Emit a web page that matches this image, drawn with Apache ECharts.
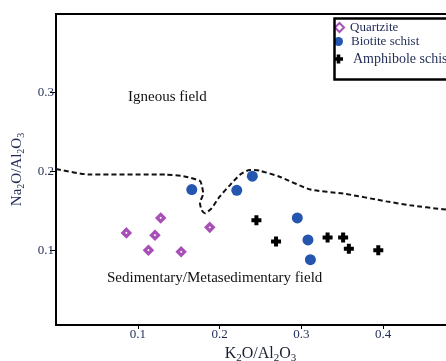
<!DOCTYPE html>
<html>
<head>
<meta charset="utf-8">
<script src="https://cdn.jsdelivr.net/npm/echarts@6/dist/echarts.min.js"></script>
<style>
  html, body { margin: 0; padding: 0; background: #fff; }
  #chart { width: 446px; height: 361px; }
</style>
</head>
<body>
<div id="chart"></div>
<script>
// K2O/Al2O3 (x) and Na2O/Al2O3 (y) per sample group
const quartziteK = [0.128, 0.086, 0.121, 0.188, 0.113, 0.153];
const quartziteNa = [0.141, 0.122, 0.119, 0.129, 0.100, 0.098];

const biotiteK = [0.166, 0.221, 0.240, 0.295, 0.308, 0.311];
const biotiteNa = [0.177, 0.176, 0.194, 0.141, 0.113, 0.088];

const amphiboleK = [0.245, 0.269, 0.332, 0.351, 0.358, 0.394];
const amphiboleNa = [0.138, 0.111, 0.116, 0.116, 0.102, 0.100];

// igneous / sedimentary boundary (dashed)
const boundaryK = [0, 0.042, 0.135, 0.156, 0.176, 0.178, 0.180, 0.176, 0.178, 0.182, 0.190, 0.200,
  0.213, 0.225, 0.237, 0.249, 0.274, 0.311, 0.351, 0.404, 0.433, 0.473, 0.49];
const boundaryNa = [0.203, 0.196, 0.196, 0.194, 0.188, 0.183, 0.172, 0.160, 0.151, 0.147, 0.153, 0.168,
  0.183, 0.196, 0.202, 0.201, 0.193, 0.177, 0.172, 0.162, 0.157, 0.152, 0.150];

const xTicks = [0.1, 0.2, 0.3, 0.4];
const yTicks = [0.1, 0.2, 0.3];

const zip = (a, b) => a.map((v, i) => [v, b[i]]);

const serif = '"Liberation Serif", "Times New Roman", serif';
const navy = '#1f2b55';
const plusPath = 'path://M3,0H7V3H10V7H7V10H3V7H0V3H3Z';

const chart = echarts.init(document.getElementById('chart'));

// K2O -> {m|K}{s|2}{m|O}
const chem = (parts) => parts.map((p) => (/^\d$/.test(p) ? '{s|' + p + '}' : '{m|' + p + '}')).join('');
const subRich = (color, size) => ({
  m: { fontSize: size, lineHeight: 20, verticalAlign: 'middle', fontFamily: serif, color: color },
  s: { fontSize: size - 5, lineHeight: 20, verticalAlign: 'bottom', fontFamily: serif, color: color }
});

function legendAt(name, top, textPad, size) {
  return {
    data: [name],
    orient: 'vertical',
    left: 334,
    top: top,
    padding: 0,
    itemWidth: 9,
    itemHeight: 9,
    itemGap: 0,
    textStyle: { fontFamily: serif, fontSize: size, color: navy, padding: [0, 0, 0, textPad] },
    selectedMode: false
  };
}

chart.setOption({
  animation: false,
  grid: {
    left: 56,
    top: 14,
    width: 409,
    height: 311,
    outerBoundsMode: 'none',
    containLabel: false,
    show: true,
    borderColor: '#000',
    borderWidth: 2
  },
  legend: [
    legendAt('Quartzite', 21, 1, 13),
    legendAt('Biotite schist', 35, 3, 13),
    legendAt('Amphibole schist', 52, 5, 14)
  ],
  graphic: [
    {
      type: 'rect',
      left: 332,
      top: 16,
      shape: { width: 140, height: 61 },
      style: { fill: 'none', stroke: '#000', lineWidth: 2.5 },
      z: 100
    },
    {
      type: 'text',
      left: 128,
      top: 90,
      style: { text: 'Igneous field', font: '15px ' + serif, fill: '#111' }
    },
    {
      type: 'text',
      left: 107,
      top: 271,
      style: { text: 'Sedimentary/Metasedimentary field', font: '15px ' + serif, fill: '#111' }
    }
  ],
  xAxis: {
    type: 'value',
    min: 0,
    max: 0.5,
    name: chem(['K', '2', 'O/Al', '2', 'O', '3']),
    nameLocation: 'middle',
    nameGap: 17,
    nameTextStyle: { rich: subRich('#1a1f33', 16) },
    splitLine: { show: false },
    axisLine: { lineStyle: { color: '#000', width: 2 } },
    axisTick: { show: true, length: 4, customValues: xTicks, lineStyle: { color: '#000' } },
    axisLabel: {
      customValues: xTicks,
      margin: 3,
      fontFamily: serif,
      fontSize: 13,
      color: navy,
      formatter: (v) => v.toFixed(1)
    }
  },
  yAxis: {
    type: 'value',
    min: 0.005,
    max: 0.4,
    name: chem(['Na', '2', 'O/Al', '2', 'O', '3']),
    nameLocation: 'middle',
    nameRotate: 90,
    nameGap: 29,
    nameTextStyle: { rich: subRich(navy, 15) },
    splitLine: { show: false },
    axisLine: { lineStyle: { color: '#000', width: 2 } },
    axisTick: { show: true, length: 6, customValues: yTicks, lineStyle: { color: '#000' } },
    axisLabel: {
      customValues: yTicks,
      margin: 2,
      fontFamily: serif,
      fontSize: 13,
      color: navy,
      formatter: (v) => v.toFixed(1)
    }
  },
  series: [
    {
      name: 'boundary',
      type: 'line',
      data: zip(boundaryK, boundaryNa),
      symbol: 'none',
      smooth: 0.2,
      lineStyle: { color: '#111', width: 2, type: [5, 3] },
      silent: true
    },
    {
      name: 'Quartzite',
      type: 'scatter',
      data: zip(quartziteK, quartziteNa),
      symbol: 'diamond',
      symbolSize: 7,
      itemStyle: { color: '#fff', borderColor: '#a74fb6', borderWidth: 3.2, opacity: 1 }
    },
    {
      name: 'Biotite schist',
      type: 'scatter',
      data: zip(biotiteK, biotiteNa),
      symbol: 'circle',
      symbolSize: 11,
      itemStyle: { color: '#2456b0', opacity: 1 }
    },
    {
      name: 'Amphibole schist',
      type: 'scatter',
      data: zip(amphiboleK, amphiboleNa),
      symbol: plusPath,
      symbolSize: 10,
      itemStyle: { color: '#000', opacity: 1 }
    }
  ]
});

window.addEventListener('resize', () => chart.resize());
</script>
</body>
</html>
